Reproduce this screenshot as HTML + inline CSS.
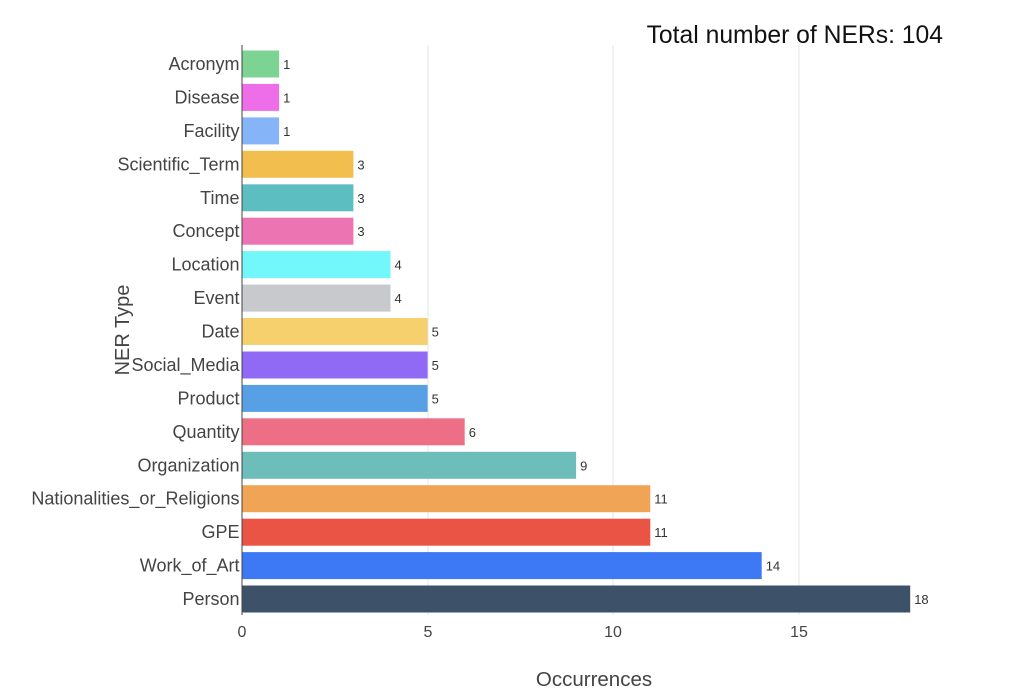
<!DOCTYPE html>
<html><head><meta charset="utf-8"><style>
body{margin:0;background:#fff;}
svg text{font-family:"Liberation Sans",Arial,sans-serif;}
</style></head><body>
<svg width="1024" height="692" viewBox="0 0 1024 692" xmlns="http://www.w3.org/2000/svg">
<rect width="1024" height="692" fill="#fff"/>
<text x="943" y="43" font-size="24.7" text-anchor="end" fill="#111">Total number of NERs: 104</text>
<g stroke="#e6e6e6" stroke-width="1">
<line x1="428" y1="45" x2="428" y2="615"/>
<line x1="613" y1="45" x2="613" y2="615"/>
<line x1="799" y1="45" x2="799" y2="615"/>
</g>
<g>
<rect x="242" y="50.5" width="37.1" height="27" fill="#7dd492"/>
<rect x="242" y="83.9" width="37.1" height="27" fill="#ee6ee9"/>
<rect x="242" y="117.4" width="37.1" height="27" fill="#86b4f9"/>
<rect x="242" y="150.8" width="111.4" height="27" fill="#f2be4d"/>
<rect x="242" y="184.3" width="111.4" height="27" fill="#5dbec2"/>
<rect x="242" y="217.7" width="111.4" height="27" fill="#ec74b3"/>
<rect x="242" y="251.1" width="148.5" height="27" fill="#72f8fa"/>
<rect x="242" y="284.6" width="148.5" height="27" fill="#c8c9cd"/>
<rect x="242" y="318" width="185.6" height="27" fill="#f6d06d"/>
<rect x="242" y="351.5" width="185.6" height="27" fill="#9069f5"/>
<rect x="242" y="384.9" width="185.6" height="27" fill="#57a0e6"/>
<rect x="242" y="418.3" width="222.7" height="27" fill="#ed6f85"/>
<rect x="242" y="451.8" width="334.1" height="27" fill="#6dbdbb"/>
<rect x="242" y="485.2" width="408.3" height="27" fill="#f0a455"/>
<rect x="242" y="518.7" width="408.3" height="27" fill="#e95444"/>
<rect x="242" y="552.1" width="519.7" height="27" fill="#3d78f5"/>
<rect x="242" y="585.5" width="668.2" height="27" fill="#3d5169"/>
</g>
<g font-size="13" fill="#333">
<text x="283.1" y="69">1</text>
<text x="283.1" y="102.4">1</text>
<text x="283.1" y="135.9">1</text>
<text x="357.4" y="169.3">3</text>
<text x="357.4" y="202.8">3</text>
<text x="357.4" y="236.2">3</text>
<text x="394.5" y="269.6">4</text>
<text x="394.5" y="303.1">4</text>
<text x="431.6" y="336.5">5</text>
<text x="431.6" y="370">5</text>
<text x="431.6" y="403.4">5</text>
<text x="468.7" y="436.8">6</text>
<text x="580.1" y="470.3">9</text>
<text x="654.3" y="503.7">11</text>
<text x="654.3" y="537.2">11</text>
<text x="765.7" y="570.6">14</text>
<text x="914.2" y="604">18</text>
</g>
<g font-size="18" fill="#444" text-anchor="end">
<text x="239.5" y="70">Acronym</text>
<text x="239.5" y="103.4">Disease</text>
<text x="239.5" y="136.9">Facility</text>
<text x="239.5" y="170.3">Scientific_Term</text>
<text x="239.5" y="203.8">Time</text>
<text x="239.5" y="237.2">Concept</text>
<text x="239.5" y="270.6">Location</text>
<text x="239.5" y="304.1">Event</text>
<text x="239.5" y="337.5">Date</text>
<text x="239.5" y="371">Social_Media</text>
<text x="239.5" y="404.4">Product</text>
<text x="239.5" y="437.8">Quantity</text>
<text x="239.5" y="471.3">Organization</text>
<text x="239.5" y="504.7">Nationalities_or_Religions</text>
<text x="239.5" y="538.2">GPE</text>
<text x="239.5" y="571.6">Work_of_Art</text>
<text x="239.5" y="605">Person</text>
</g>
<line x1="242" y1="45" x2="242" y2="615" stroke="#444" stroke-width="1"/>
<g font-size="16" fill="#444" text-anchor="middle">
<text x="242" y="637">0</text><text x="428" y="637">5</text><text x="613" y="637">10</text><text x="799" y="637">15</text>
</g>
<text x="594" y="686" font-size="20.5" fill="#444" text-anchor="middle">Occurrences</text>
<text transform="translate(129,330) rotate(-90)" font-size="20" fill="#444" text-anchor="middle">NER Type</text>
</svg>
</body></html>
